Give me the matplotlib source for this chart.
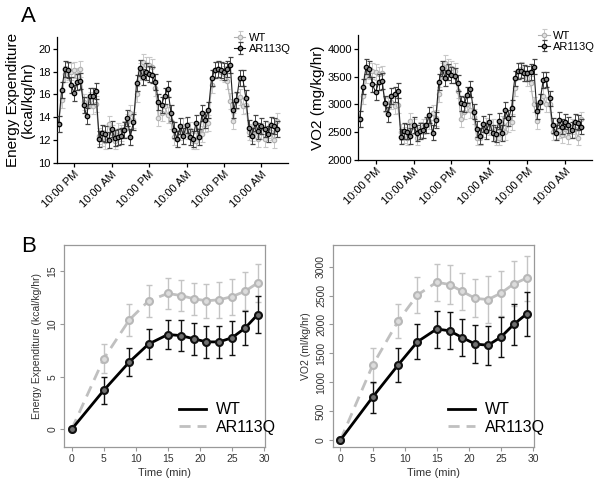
import numpy as np
import matplotlib
matplotlib.use("Agg")
import matplotlib.pyplot as plt
from matplotlib.lines import Line2D

plt.rcParams['font.family'] = ['Liberation Sans', 'DejaVu Sans']

# Panel A: hourly readings starting 17:00, three days
ee_ar = [13.4, 16.4, 18.2, 18.1, 16.8, 16.1, 17.1, 17.2, 15.1, 14.1, 15.9, 15.9, 16.3,
         12.1, 12.6, 12.5, 12.0, 13.0, 12.2, 12.3, 12.4, 12.9, 13.9, 12.3, 13.6,
         17.0, 18.3, 17.5, 18.0, 17.8, 17.7, 17.1, 15.3, 15.1, 15.9, 16.5, 14.4,
         12.9, 12.1, 13.2, 12.4, 13.3, 12.3, 12.1, 13.5, 12.3, 14.4, 13.8, 14.6,
         17.4, 18.1, 18.2, 18.1, 18.0, 18.2, 18.6, 14.6, 15.5, 17.4, 17.4, 15.7,
         13.1, 12.4, 13.5, 12.8, 13.2, 13.0, 12.5, 13.3, 13.2, 13.0]
ee_wt = [13.4, 15.5, 17.8, 18.0, 18.0, 18.1, 17.6, 18.2, 15.3, 15.0, 15.5, 15.0, 15.2,
         12.4, 12.2, 11.9, 13.4, 12.6, 11.9, 12.8, 12.6, 13.0, 13.6, 14.4, 13.8,
         16.0, 18.0, 18.8, 18.6, 18.6, 18.4, 16.6, 13.9, 14.4, 15.0, 14.2, 13.7,
         12.3, 12.1, 12.7, 13.2, 12.8, 12.9, 11.9, 11.9, 12.9, 12.5, 13.4, 13.5,
         16.8, 18.1, 18.2, 18.0, 17.8, 17.2, 15.4, 13.7, 15.4, 15.8, 15.0, 15.1,
         12.7, 12.6, 12.9, 12.1, 12.8, 12.1, 12.9, 12.7, 12.0, 13.7]
vo2_ar = [2740, 3320, 3680, 3640, 3360, 3220, 3400, 3420, 3020, 2820, 3150, 3180, 3250,
          2420, 2520, 2510, 2430, 2630, 2480, 2520, 2530, 2630, 2810, 2490, 2720,
          3400, 3650, 3480, 3580, 3530, 3520, 3390, 3020, 3000, 3170, 3280, 2870,
          2560, 2430, 2650, 2520, 2680, 2480, 2460, 2700, 2480, 2900, 2750, 2930,
          3470, 3600, 3610, 3570, 3560, 3580, 3680, 2880, 3050, 3440, 3450, 3110,
          2620, 2490, 2720, 2600, 2690, 2630, 2540, 2690, 2670, 2600]
vo2_wt = [2740, 3150, 3520, 3600, 3600, 3580, 3540, 3560, 3000, 2970, 3050, 2970, 2980,
          2500, 2450, 2400, 2700, 2600, 2400, 2550, 2600, 2620, 2700, 2850, 2750,
          3180, 3600, 3750, 3680, 3650, 3600, 3250, 2740, 2870, 3000, 2900, 2780,
          2400, 2400, 2550, 2620, 2580, 2600, 2400, 2400, 2650, 2500, 2650, 2680,
          3300, 3600, 3630, 3560, 3480, 3380, 3000, 2700, 3050, 3150, 3000, 3000,
          2500, 2520, 2540, 2450, 2560, 2420, 2600, 2560, 2400, 2730]
ee_err = 0.7
vo2_err = 140
tick_hours = [5, 17, 29, 41, 53, 65]
tick_labels = ['10:00 PM', '10:00 AM'] * 3

# Panel B: acute response over 30 min
t_min = [0, 5, 9, 12, 15, 17, 19, 21, 23, 25, 27, 29]
eeB_wt = [0, 3.7, 6.4, 8.1, 9.0, 8.9, 8.6, 8.3, 8.3, 8.7, 9.6, 10.9]
eeB_wt_err = [0, 1.3, 1.3, 1.4, 1.4, 1.5, 1.5, 1.5, 1.5, 1.6, 1.6, 1.8]
eeB_ar = [0, 6.7, 10.4, 12.2, 12.9, 12.7, 12.4, 12.2, 12.3, 12.6, 13.1, 13.9]
eeB_ar_err = [0, 1.4, 1.5, 1.5, 1.5, 1.5, 1.5, 1.6, 1.7, 1.7, 1.8, 1.8]
vo2B_wt = [0, 740, 1300, 1700, 1920, 1890, 1770, 1660, 1640, 1780, 2000, 2180]
vo2B_wt_err = [0, 270, 290, 300, 320, 320, 320, 330, 340, 340, 360, 380]
vo2B_ar = [0, 1290, 2060, 2510, 2730, 2690, 2570, 2450, 2430, 2540, 2700, 2800]
vo2B_ar_err = [0, 310, 300, 310, 320, 330, 320, 330, 400, 390, 390, 390]

fig = plt.figure(figsize=(6, 4.83), dpi=100)

BLK = '#222222'
GRY = '#b0b0b0'


def panel_a(rect, wt, ar, err, ylim, yticks, ylabel):
    ax = fig.add_axes(rect)
    hrs = np.arange(len(wt))
    ax.errorbar(hrs, wt, yerr=err, color=GRY, ecolor='#c8c8c8', elinewidth=0.7,
                capsize=1.8, capthick=0.7, lw=0.8, marker='o', ms=3.2,
                mfc='#e0e0e0', mec=GRY, mew=0.8, label='WT', zorder=2)
    ax.errorbar(hrs, ar, yerr=err, color=BLK, ecolor='#444444', elinewidth=0.7,
                capsize=1.8, capthick=0.7, lw=0.8, marker='o', ms=3.2,
                mfc='#888888', mec='black', mew=0.9, label='AR113Q', zorder=3)
    ax.set_xlim(-0.5, 73.5)
    ax.set_ylim(*ylim)
    ax.set_yticks(yticks)
    ax.set_xticks(tick_hours)
    ax.set_xticklabels(tick_labels, rotation=45, ha='right', rotation_mode='anchor')
    for s in ['top', 'right']:
        ax.spines[s].set_visible(False)
    for s in ['left', 'bottom']:
        ax.spines[s].set_linewidth(0.9)
    ax.tick_params(labelsize=8, length=3, width=0.9, pad=1.5)
    ax.set_ylabel(ylabel, fontsize=11, labelpad=2, linespacing=1.1)
    ax.legend(loc='upper right', bbox_to_anchor=(1.03, 1.07), frameon=False,
              fontsize=8, handlelength=1.0, handletextpad=0.3,
              borderaxespad=0, labelspacing=0.1)
    return ax


panel_a([0.095, 0.6625, 0.385, 0.2605], ee_wt, ee_ar, ee_err, (10, 21),
        [10, 12, 14, 16, 18, 20], 'Energy Expenditure\n(kcal/kg/hr)')
panel_a([0.597, 0.669, 0.39, 0.2585], vo2_wt, vo2_ar, vo2_err, (2000, 4250),
        [2000, 2500, 3000, 3500, 4000], 'VO2 (mg/kg/hr)')


def panel_b(rect, wt, wt_err, ar, ar_err, ylim, yticks, ylabel, leg_anchor):
    ax = fig.add_axes(rect)
    t = np.array(t_min)
    ar = np.array(ar)
    wt = np.array(wt)
    ax.errorbar(t[1:], ar[1:], yerr=ar_err[1:], fmt='none', ecolor='#c4c4c4',
                elinewidth=1.0, capsize=2, capthick=1.0, zorder=2)
    ax.plot(t[:5], ar[:5], color='#c0c0c0', lw=2, ls=(0, (4, 2.5)), zorder=2)
    ax.plot(t[4:], ar[4:], color='#c0c0c0', lw=2, zorder=2)
    ax.plot(t, ar, ls='none', marker='o', ms=5, mfc='#dcdcdc', mec='#b8b8b8',
            mew=1.5, zorder=3)
    ax.errorbar(t[1:], wt[1:], yerr=wt_err[1:], fmt='none', ecolor='#111111',
                elinewidth=1.0, capsize=2, capthick=1.0, zorder=4)
    ax.plot(t, wt, color='black', lw=2, zorder=4)
    ax.plot(t, wt, ls='none', marker='o', ms=5, mfc='#707070', mec='#111111',
            mew=1.5, zorder=5)
    ax.set_xlim(-1.16, 30.16)
    ax.set_ylim(*ylim)
    ax.set_xticks([0, 5, 10, 15, 20, 25, 30])
    ax.set_yticks(yticks)
    for lab in ax.get_yticklabels():
        lab.set_rotation(90)
        lab.set_va('center')
    for s in ax.spines.values():
        s.set_color('#999999')
        s.set_linewidth(0.9)
    ax.tick_params(labelsize=7.5, length=3, width=0.8, color='#999999',
                   labelcolor='#333333', pad=2)
    ax.set_xlabel('Time (min)', fontsize=8, color='#333333', labelpad=3)
    ax.set_ylabel(ylabel, fontsize=7.5, color='#333333', labelpad=4)
    handles = [Line2D([], [], color='black', lw=2),
               Line2D([], [], color='#c0c0c0', lw=2, ls=(0, (4, 2.5)))]
    ax.legend(handles, ['WT', 'AR113Q'], loc='lower left', bbox_to_anchor=leg_anchor,
              frameon=False, fontsize=11.5, handlelength=1.7, handletextpad=0.6,
              labelspacing=0.15, borderaxespad=0)
    return ax


panel_b([0.107, 0.0745, 0.335, 0.4183], eeB_wt, eeB_wt_err, eeB_ar, eeB_ar_err,
        (-1.68, 17.5), [0, 5, 10, 15], 'Energy Expenditure (kcal/kg/hr)',
        (0.54, 0.03))
panel_b([0.555, 0.0745, 0.335, 0.4183], vo2B_wt, vo2B_wt_err, vo2B_ar, vo2B_ar_err,
        (-121, 3374), [0, 500, 1000, 1500, 2000, 2500, 3000], 'VO2 (ml/kg/hr)',
        (0.54, 0.03))

fig.text(0.035, 0.965, 'A', fontsize=16, va='center', ha='left')
fig.text(0.035, 0.49, 'B', fontsize=16, va='center', ha='left')

fig.savefig('out.png', dpi=100)
